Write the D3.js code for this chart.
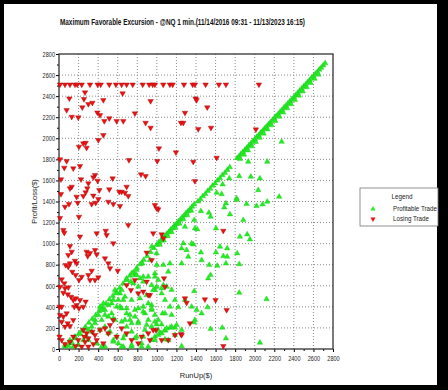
<!DOCTYPE html>
<html>
<head>
<meta charset="utf-8">
<script src="https://cdn.jsdelivr.net/npm/d3@7"></script>
<style>
body { margin: 0; background: #000; }
svg text { font-family: "Liberation Sans", Arial, sans-serif; }
</style>
</head>
<body>
<svg id="chart"></svg>
<script>
// tick values
var xTicks = [0,200,400,600,800,1000,1200,1400,1600,1800,2000,2200,2400,2600,2800];
var yTicks = [0,200,400,600,800,1000,1200,1400,1600,1800,2000,2200,2400,2600,2800];
var legendLabels = [`Profitable Trade`, `Losing Trade`];

// profitable trades on (or near) the diagonal: [runUp, profit]
var profitDiagonal = [
  [95,30],[130,65],[165,100],[200,140],[235,175],[270,210],[305,250],[340,285],[375,320],[410,360],
  [445,395],[480,430],[515,470],[550,505],[585,545],[620,580],[655,620],[690,655],[725,695],[760,730],
  [795,770],[830,805],[865,845],[900,880],[935,920],[970,958],
  [1000,990],[1020,1012],[1040,1028],[1060,1052],[1080,1068],[1100,1092],[1120,1108],[1140,1132],[1160,1148],
  [1180,1172],[1200,1188],[1220,1212],[1240,1228],[1260,1252],[1280,1268],[1300,1292],[1320,1308],[1340,1330],
  [1360,1350],[1380,1372],[1030,990],[1070,1030],[1110,1072],[1150,1110],[1190,1150],[1230,1190],[1270,1232],
  [1310,1270],[1350,1312],
  [1420,1400],[1445,1422],[1470,1450],[1495,1472],[1520,1500],[1545,1522],[1570,1550],[1595,1572],[1620,1600],
  [1645,1622],[1670,1650],[1695,1672],[1720,1700],[1745,1725],
  [1820,1812],[1840,1830],[1860,1852],[1880,1870],[1900,1892],[1920,1910],[1940,1932],[1960,1950],[1980,1972],
  [2000,1990],[2020,2012],[2040,2030],[2060,2052],[2080,2070],[2100,2092],[2120,2110],[2140,2132],[2160,2150],
  [2180,2172],[2200,2190],[2220,2212],[2240,2230],[2260,2252],[2280,2270],[2300,2292],[2320,2310],[2340,2332],
  [2360,2350],[2380,2372],[2400,2390],[2420,2412],[2440,2430],[2460,2452],[2480,2470],[2500,2492],[2520,2510],
  [2540,2532],[2560,2550],[2580,2572],[2600,2590],[2620,2612],[2640,2630],[2660,2652],[2680,2670],[2700,2692],
  [2720,2712],
  [1850,1805],[1890,1845],[1930,1885],[1970,1925],[2010,1965],[2050,2005],[2090,2045],[2130,2085],[2170,2125],
  [2210,2165],[2250,2205],[2290,2245],[2330,2285],[2370,2325],[2410,2365],[2450,2405],[2490,2445],[2530,2485],
  [2570,2525],[2610,2565],[2650,2605]
];

// other profitable trades
var profitScatter = [
  [2275,1967],[1934,1777],[2128,1777],[1842,1641],[1961,1635],[2053,1619],[1672,1562],[1740,1619],[1611,1483],
  [1662,1470],[1815,1430],[2036,1508],[2250,1445],[1706,1382],[1689,1344],[1815,1414],[1917,1376],[2019,1357],
  [2080,1373],[2128,1398],[1450,1309],[1532,1293],[1549,1255],[1747,1278],[1382,1224],[1883,1224],[1389,1145],
  [1413,1136],[1604,1145],[1849,1066],[1923,1088],[1951,1041],[1372,993],[1645,971],[1719,955],[1604,917],
  [1450,917],[1679,882],[1719,876],[1821,908],[1457,844],[1535,797],[1617,790],[1706,813],[1842,806],[1549,702],
  [1525,671],[1382,550],[1842,534],[2121,474],[1406,370],[1518,396],[1457,338],[1389,275],[1379,253],[1549,190],
  [1668,202],[1706,101],[2053,60],
  [1219,396],[1059,338],[947,417],[1253,28],[998,234],[1049,234],[1083,174],[1134,202],[1185,202],[1032,149],
  [1083,92],[980,117],
  [1270,1003],[1355,1003],[1134,813],[1253,813],[1321,876],[947,971],[998,908],[929,844],[851,813],[793,750],
  [776,702],[827,671],[861,686],[691,671],[735,639],[980,718],[1014,655],[947,607],[980,560],[1049,528],
  [1083,465],[1151,560],[1185,465],[1287,465],[1355,401],[1134,401],[1083,338],[1151,323],[572,560],[623,528],
  [606,465],[555,465],[657,465],[589,401],[640,386],[691,338],[725,323],[674,275],[776,307],[742,244],[810,259],
  [810,386],[861,401],[878,338],[912,433],[947,370],[980,323],[1014,275],[912,275],[947,212],[878,180],[1014,180],
  [1049,149],[980,85],[1117,85],[1185,133],[1253,180],[1202,228],[1151,212],[1083,180],[419,401],[453,433],
  [470,370],[504,417],[402,323],[436,275],[368,275],[334,212],[300,180],[282,117],[248,85],[197,38],[146,22],
  [112,54],[61,22],[504,307],[538,338],[572,275],[470,212],[521,164],[555,85],[606,54],[657,101],[691,212],
  [742,164],[793,117],[844,54],[912,22],[742,22],[657,22],[436,22],[385,54],[1066,797],[1117,733],[1066,607],
  [1287,1160],[1253,955],[1304,939],[998,797],[1049,576],[1100,591],[998,591],[980,686],
  [844,813],[742,718],[793,702],[691,655],[759,623],[810,591],[861,639],[912,686],[640,560],[589,528],
  [674,496],[742,465],[827,481],[896,512],[963,560],[538,433],[623,401],[691,386],[776,370],[861,354],
  [947,386],[436,370],[470,323],[555,291],[640,259],[725,275],[810,244],[896,228],[980,259],[368,244],
  [266,196],[334,164],[419,180],[504,149],[589,117],[674,133],[776,101],[861,117],[163,117],[214,149],
  [112,85],[61,38],[197,38],[300,85],[385,54],[470,22],[555,69],[640,22],[742,38],[844,22],
  [947,85],[1014,133],[1100,196]
];

// losing trades: [runUp, loss]
var lossTrades = [
  [10,2510],[61,2510],[112,2510],[163,2510],[187,2510],[232,2510],[317,2510],[395,2510],[426,2510],[514,2510],
  [582,2510],[640,2510],[691,2510],[753,2510],[855,2510],[922,2510],[957,2510],[980,2510],[1065,2510],[1133,2510],
  [1161,2510],[1277,2510],[1366,2510],[1389,2510],[1498,2510],[1634,2510],[1706,2510],[2043,2510],
  [266,2435],[255,2372],[106,2378],[300,2325],[341,2337],[453,2362],[238,2293],[78,2268],[130,2204],[197,2198],
  [392,2245],[419,2220],[463,2163],[514,2189],[589,2163],[657,2163],[650,2426],[776,2236],[936,2353],[885,2147],
  [936,2100],[453,2030],[402,1983],[204,1920],[248,1951],[272,1957],[282,1910],[10,1800],[78,1784],[54,1720],
  [146,1714],[214,1736],[715,1793],[1004,1784],[1021,1904],[1195,1866],[1287,2242],[1246,2147],[1270,2147],
  [1372,1777],[20,1610],[225,1610],[368,1651],[351,1629],[395,1597],[548,1619],[838,1657],[885,1641],[130,1540],
  [112,1524],[300,1572],[289,1524],[272,1487],[248,1452],[20,1470],[180,1445],[351,1455],[412,1508],[514,1515],
  [616,1492],[640,1492],[674,1483],[691,1540],[708,1452],[402,1423],
  [1396,2378],[1406,2362],[1515,2293],[1423,2087],[1553,2100],[2012,2084],[1611,1815],[1389,1594],
  [1679,1122],[1491,471],[1600,465],[1713,370],[1338,244],[1679,28],
  [980,1366],[1014,1325],[963,1098],[1049,1088],[1066,1050],[947,844],[1073,671],[1287,481],[1304,439],[929,512],
  [1246,142],[1185,133],[1117,85],[1049,85],[991,180],[929,85],
  [61,1350],[102,1376],[191,1388],[334,1376],[375,1388],[504,1398],[555,1376],[623,1357],[998,1335],[204,1255],
  [708,1176],[44,1129],[54,1103],[385,1098],[477,1122],[487,1082],[555,1003],[112,977],[130,923],[95,892],
  [282,923],[293,882],[368,939],[385,898],[470,860],[504,813],[521,766],[600,743],[896,914],[163,838],[180,813],
  [112,813],[95,781],[68,797],[136,733],[170,702],[204,655],[232,686],[300,702],[334,743],[317,655],[368,655],
  [402,680],[27,661],[54,623],[10,591],[61,576],[95,585],[44,534],[89,519],[123,496],[146,465],[170,481],
  [214,465],[180,417],[204,386],[156,401],[248,401],[272,449],[5,401],[27,401],[10,323],[44,307],[78,338],
  [27,259],[89,244],[112,218],[61,212],[146,275],[248,180],[282,149],[258,117],[300,101],[341,164],[368,133],
  [385,85],[351,47],[300,22],[419,180],[470,196],[504,149],[521,228],[555,275],[589,117],[453,54],[640,196],
  [691,149],[742,85],[810,54],[844,117],[912,149],[963,180],[735,560],[810,528],[861,544],[912,512],[691,607],
  [776,655],[896,639],[1083,591],[1253,133],[5,117],[27,85],[61,47],[112,69],[146,117],[170,28],[197,85],
  [232,22],[266,69],[10,1243],[214,1066],[317,911]
];

var margin = {top: 54, bottom: 41, left: 59, right: 115};
var fullWidth = 448, fullHeight = 390;
var width = fullWidth - margin.left - margin.right;
var height = fullHeight - margin.top - margin.bottom;

var root = d3.select(`#chart`)
    .attr(`width`, fullWidth)
    .attr(`height`, fullHeight)
    .style(`display`, `block`);

// black frame + white page
root.append(`rect`).attr(`width`, fullWidth).attr(`height`, fullHeight).attr(`fill`, `#000`);
root.append(`rect`).attr(`x`, 4).attr(`y`, 4).attr(`width`, 433).attr(`height`, 381).attr(`fill`, `#fff`);

root.append(`text`)
    .attr(`x`, 60).attr(`y`, 25)
    .attr(`textLength`, 245)
    .attr(`lengthAdjust`, `spacingAndGlyphs`)
    .attr(`fill`, `#111`)
    .style(`font-size`, `8.5px`)
    .style(`font-weight`, `bold`)
    .text(`Maximum Favorable Excursion - @NQ 1 min.(11/14/2016 09:31 - 11/13/2023 16:15)`);

var svg = root.append(`g`)
    .attr(`transform`, `translate(${margin.left},${margin.top})`);

var xScale = d3.scaleLinear().domain([0, 2800]).range([0, width]);
var yScale = d3.scaleLinear().domain([0, 2800]).range([height, 0]);

// dotted grid
svg.selectAll(`.vgrid`)
    .data(xTicks.slice(1, -1))
    .enter().append(`line`)
    .attr(`x1`, d => xScale(d)).attr(`x2`, d => xScale(d))
    .attr(`y1`, 0).attr(`y2`, height)
    .attr(`stroke`, `#8a8a8a`).attr(`stroke-width`, 1)
    .attr(`stroke-dasharray`, `1,2`);
svg.selectAll(`.hgrid`)
    .data(yTicks.slice(1, -1))
    .enter().append(`line`)
    .attr(`x1`, 0).attr(`x2`, width)
    .attr(`y1`, d => yScale(d)).attr(`y2`, d => yScale(d))
    .attr(`stroke`, `#8a8a8a`).attr(`stroke-width`, 1)
    .attr(`stroke-dasharray`, `1,2`);

// minor ticks
var minor = d3.range(100, 2800, 200);
svg.append(`g`)
    .call(d3.axisLeft(yScale).tickValues(minor).tickSize(2).tickFormat(``))
    .call(g => g.select(`.domain`).remove());
svg.append(`g`)
    .attr(`transform`, `translate(0, ${height})`)
    .call(d3.axisBottom(xScale).tickValues(minor).tickSize(2).tickFormat(``))
    .call(g => g.select(`.domain`).remove());

var yAxis = svg.append(`g`)
    .call(d3.axisLeft(yScale).tickValues(yTicks).tickSize(3).tickPadding(1).tickFormat(d3.format(`d`)))
    .call(g => g.select(`.domain`).remove());
var xAxis = svg.append(`g`)
    .attr(`transform`, `translate(0, ${height})`)
    .call(d3.axisBottom(xScale).tickValues(xTicks).tickSize(3).tickPadding(4).tickFormat(d3.format(`d`)))
    .call(g => g.select(`.domain`).remove());

svg.selectAll(`.tick text`)
    .style(`font-size`, `7px`)
    .attr(`fill`, `#222`)
    .attr(`textLength`, function() { return this.textContent.length * 3.1; })
    .attr(`lengthAdjust`, `spacingAndGlyphs`);

// frame
svg.append(`rect`)
    .attr(`width`, width).attr(`height`, height)
    .attr(`fill`, `none`).attr(`stroke`, `#333`).attr(`stroke-width`, 1.3);

var tri = d3.symbol().type(d3.symbolTriangle).size(13);

svg.selectAll(`.win`)
    .data(profitDiagonal.concat(profitScatter))
    .enter().append(`path`)
    .attr(`class`, `win`)
    .attr(`d`, tri)
    .attr(`transform`, d => `translate(${xScale(d[0])}, ${yScale(d[1])})`)
    .attr(`fill`, `#22ee22`)
    .attr(`stroke`, `#18c818`).attr(`stroke-width`, 0.4);

svg.selectAll(`.loss`)
    .data(lossTrades)
    .enter().append(`path`)
    .attr(`class`, `loss`)
    .attr(`d`, tri)
    .attr(`transform`, d => `translate(${xScale(d[0])}, ${yScale(d[1])}) rotate(180)`)
    .attr(`fill`, `#ee1111`)
    .attr(`stroke`, `#a00000`).attr(`stroke-width`, 0.4);

// axis titles
root.append(`text`)
    .attr(`x`, margin.left + width / 2).attr(`y`, 378)
    .attr(`text-anchor`, `middle`)
    .attr(`fill`, `#222`)
    .style(`font-size`, `7.5px`)
    .text(`RunUp($)`);
root.append(`text`)
    .attr(`transform`, `translate(37, ${margin.top + height / 2}) rotate(-90)`)
    .attr(`text-anchor`, `middle`)
    .attr(`fill`, `#222`)
    .style(`font-size`, `7.5px`)
    .text(`Profit/Loss($)`);

// legend
var legend = root.append(`g`).attr(`transform`, `translate(360, 188)`);
legend.append(`rect`)
    .attr(`width`, 78).attr(`height`, 38)
    .attr(`fill`, `#fff`).attr(`stroke`, `#777`).attr(`stroke-width`, 0.8);
legend.append(`text`)
    .attr(`x`, 42).attr(`y`, 11)
    .attr(`text-anchor`, `middle`)
    .attr(`fill`, `#222`)
    .attr(`textLength`, 21)
    .attr(`lengthAdjust`, `spacingAndGlyphs`)
    .style(`font-size`, `7px`)
    .text(`Legend`);
legend.selectAll(`.item`)
    .data(legendLabels)
    .enter().append(`text`)
    .attr(`x`, 33).attr(`y`, (d, i) => 23 + i * 10)
    .attr(`fill`, `#222`)
    .attr(`textLength`, (d, i) => i ? 36 : 44)
    .attr(`lengthAdjust`, `spacingAndGlyphs`)
    .style(`font-size`, `7px`)
    .text(d => d);
legend.selectAll(`.mark`)
    .data(legendLabels)
    .enter().append(`path`)
    .attr(`d`, d3.symbol().type(d3.symbolTriangle).size(11))
    .attr(`transform`, (d, i) => `translate(13, ${21 + i * 10})` + (i ? ` rotate(180)` : ``))
    .attr(`fill`, (d, i) => i ? `#ee1111` : `#22ee22`);
</script>
</body>
</html>
